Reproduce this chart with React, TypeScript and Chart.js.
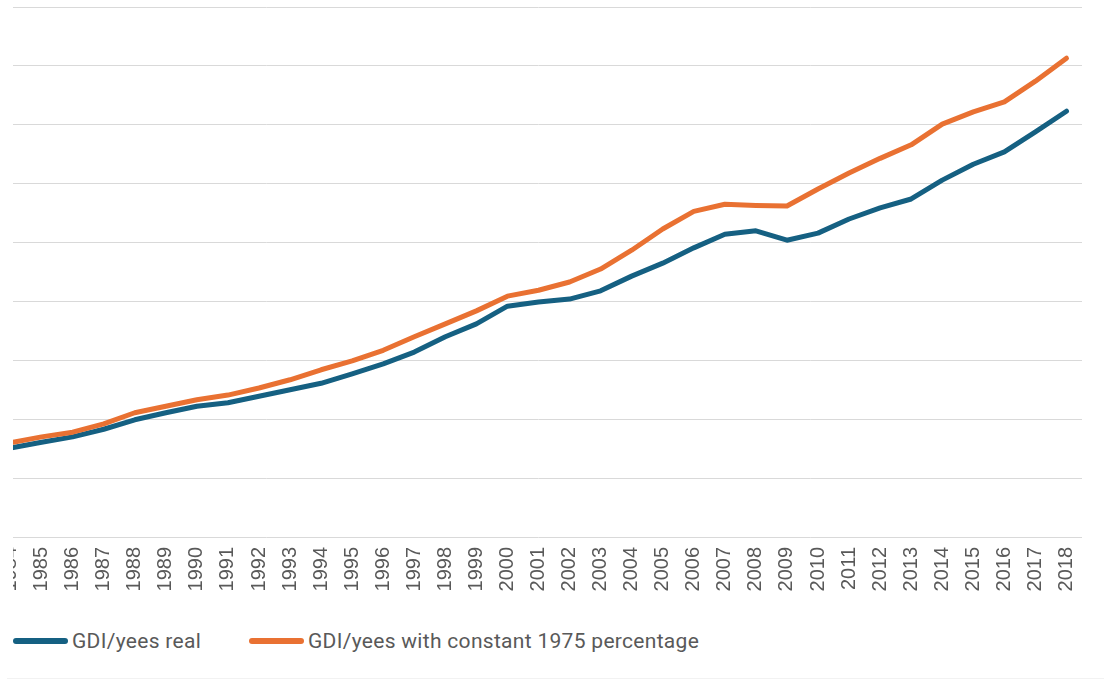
import React, { useEffect, useRef } from "react";
import { Chart, registerables } from "chart.js";

Chart.register(...registerables);

const years = [
  "1984", "1985", "1986", "1987", "1988", "1989", "1990", "1991", "1992", "1993",
  "1994", "1995", "1996", "1997", "1998", "1999", "2000", "2001", "2002", "2003",
  "2004", "2005", "2006", "2007", "2008", "2009", "2010", "2011", "2012", "2013",
  "2014", "2015", "2016", "2017", "2018",
];

const gdiReal = [
  15.1, 16.1, 17.0, 18.3, 19.9, 21.1, 22.2, 22.8, 23.9, 25.0,
  26.1, 27.7, 29.4, 31.4, 34.0, 36.2, 39.2, 39.9, 40.4, 41.8,
  44.3, 46.5, 49.1, 51.4, 52.0, 50.4, 51.6, 54.0, 55.9, 57.4,
  60.6, 63.3, 65.4, 68.8, 72.3,
];

const gdiConstant1975 = [
  16.0, 17.0, 17.8, 19.2, 21.1, 22.2, 23.3, 24.1, 25.3, 26.7,
  28.4, 29.9, 31.7, 34.0, 36.2, 38.4, 40.9, 41.9, 43.3, 45.5,
  48.7, 52.3, 55.3, 56.5, 56.3, 56.2, 59.1, 61.8, 64.3, 66.6,
  70.1, 72.2, 73.9, 77.4, 81.3,
];

const seriesLabels = ["GDI/yees real", "GDI/yees with constant 1975 percentage"];
const seriesColors = ["#156082", "#E97132"];

const yMin = 0;
const yMax = 90;
const yStep = 10;

export default function App() {
  const canvasRef = useRef<HTMLCanvasElement | null>(null);

  useEffect(() => {
    const canvas = canvasRef.current;
    if (!canvas) return;
    const chart = new Chart(canvas, {
      type: "line",
      data: {
        labels: years,
        datasets: [
          {
            label: seriesLabels[0],
            data: gdiReal,
            borderColor: seriesColors[0],
            backgroundColor: seriesColors[0],
            borderWidth: 5,
            pointRadius: 0,
            borderCapStyle: "round",
            borderJoinStyle: "round",
            tension: 0,
            order: 1,
          },
          {
            label: seriesLabels[1],
            data: gdiConstant1975,
            borderColor: seriesColors[1],
            backgroundColor: seriesColors[1],
            borderWidth: 5,
            pointRadius: 0,
            borderCapStyle: "round",
            borderJoinStyle: "round",
            tension: 0,
            order: 0,
          },
        ],
      },
      options: {
        responsive: false,
        animation: false,
        devicePixelRatio: 1,
        layout: { padding: { top: 7, left: 0, right: 0, bottom: 0 } },
        plugins: {
          legend: { display: false },
          tooltip: { enabled: false },
        },
        scales: {
          x: {
            offset: true,
            grid: { display: false, drawTicks: false },
            border: { display: false },
            afterFit: (scale: any) => {
              scale.height = 73;
              scale.paddingLeft = 0;
              scale.paddingRight = 0;
            },
            ticks: {
              autoSkip: false,
              maxRotation: 90,
              minRotation: 90,
              padding: 10,
              color: "#595959",
              font: { family: "'Liberation Sans', Arial, sans-serif", size: 20 },
            },
          },
          y: {
            min: yMin,
            max: yMax,
            grid: { color: "#D9D9D9", lineWidth: 1, drawTicks: false },
            border: { display: false },
            ticks: { display: false, stepSize: yStep },
          },
        },
      },
    });
    return () => chart.destroy();
  }, []);

  return (
    <div
      style={{
        position: "fixed",
        left: 0,
        top: 0,
        width: 1104,
        height: 679,
        background: "#ffffff",
        overflow: "hidden",
      }}
    >
      <div
        style={{
          position: "absolute",
          left: 13,
          top: 0,
          width: 1091,
          height: 615,
          overflow: "hidden",
        }}
      >
        <canvas
          ref={canvasRef}
          width={1087}
          height={610}
          style={{ position: "absolute", left: -18, top: 0, width: 1087, height: 610 }}
        />
      </div>
      {[0, 1].map((i) => (
        <div
          key={i}
          style={{
            position: "absolute",
            left: i === 0 ? 13 : 249,
            top: 627,
            height: 28,
            display: "flex",
            alignItems: "center",
            fontFamily: "Roboto, 'Noto Sans', sans-serif",
            fontSize: 21,
            letterSpacing: 0.3,
            color: "#595959",
            whiteSpace: "nowrap",
          }}
        >
          <div
            style={{
              width: 55,
              height: 6,
              borderRadius: 3,
              background: seriesColors[i],
              marginRight: 4,
            }}
          />
          <span>{seriesLabels[i]}</span>
        </div>
      ))}
      <div
        style={{
          position: "absolute",
          left: 7,
          right: 0,
          top: 678,
          height: 1,
          background: "#F2F2F2",
        }}
      />
    </div>
  );
}
